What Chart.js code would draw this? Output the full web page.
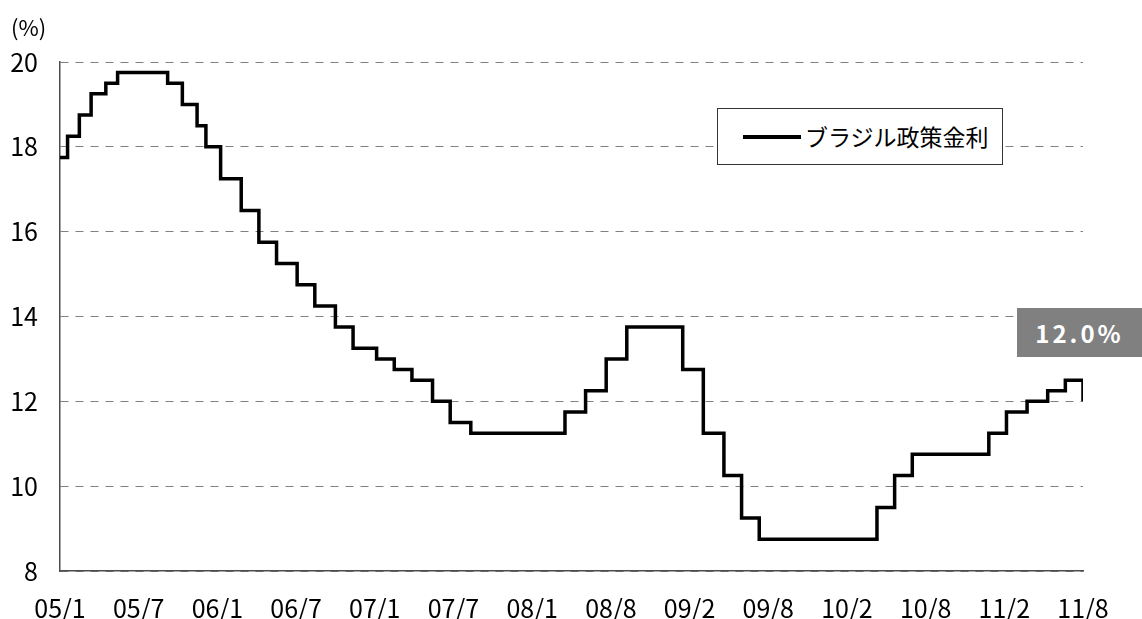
<!DOCTYPE html>
<html lang="ja">
<head>
<meta charset="utf-8">
<title>ブラジル政策金利</title>
<script src="https://cdn.jsdelivr.net/npm/chart.js@4/dist/chart.umd.min.js"></script>
<style>
    html, body {
        margin: 0;
        padding: 0;
        background: #ffffff;
    }
    .wrap {
        position: relative;
        width: 1142px;
        height: 619px;
        font-family: "Noto Sans CJK JP", sans-serif;
    }
    .unit {
        position: absolute;
        left: 11px;
        top: 10px;
        font-size: 22px;
        color: #000;
    }
    .legendBox {
        position: absolute;
        left: 717px;
        top: 108px;
        width: 284px;
        height: 55px;
        border: 1px solid #333;
        background: #fff;
    }
    .legendLine {
        position: absolute;
        left: 25px;
        top: 26px;
        width: 58px;
        height: 4px;
        background: #000;
    }
    .legendText {
        position: absolute;
        left: 87px;
        top: 10px;
        font-size: 23px;
        line-height: 34px;
        color: #000;
    }
    .lastLabel {
        position: absolute;
        left: 1017px;
        top: 308px;
        width: 125px;
        height: 49px;
        background: #808080;
        color: #fff;
        font-weight: bold;
        font-size: 24px;
        letter-spacing: 3px;
        line-height: 49px;
        text-align: center;
    }
</style>
</head>
<body>
<div class="wrap">
    <canvas id="rateChart" width="1142" height="619"></canvas>
    <div class="unit">(%)</div>
    <div class="legendBox">
        <div class="legendLine"></div>
        <div class="legendText" id="legendText"></div>
    </div>
    <div class="lastLabel" id="lastLabel"></div>
</div>
<script>
// ブラジル政策金利 (Selic) - rate changes
const seriesName = 'ブラジル政策金利';

const changeDates = [
    '2005-01-01', '2005-01-19', '2005-02-16', '2005-03-16', '2005-04-20', '2005-05-18',
    '2005-09-14', '2005-10-19', '2005-11-23', '2005-12-14',
    '2006-01-18', '2006-03-08', '2006-04-19', '2006-05-31', '2006-07-19', '2006-08-30',
    '2006-10-18', '2006-11-29',
    '2007-01-24', '2007-03-07', '2007-04-18', '2007-06-06', '2007-07-18', '2007-09-05',
    '2008-04-16', '2008-06-04', '2008-07-23', '2008-09-10',
    '2009-01-21', '2009-03-11', '2009-04-29', '2009-06-10', '2009-07-22',
    '2010-04-28', '2010-06-09', '2010-07-21',
    '2011-01-19', '2011-03-02', '2011-04-20', '2011-06-08', '2011-07-20', '2011-08-31'
];

const policyRate = [
    17.75, 18.25, 18.75, 19.25, 19.50, 19.75,
    19.50, 19.00, 18.50, 18.00,
    17.25, 16.50, 15.75, 15.25, 14.75, 14.25,
    13.75, 13.25,
    13.00, 12.75, 12.50, 12.00, 11.50, 11.25,
    11.75, 12.25, 13.00, 13.75,
    12.75, 11.25, 10.25, 9.25, 8.75,
    9.50, 10.25, 10.75,
    11.25, 11.75, 12.00, 12.25, 12.50, 12.00
];

const tickLabels = ['05/1', '05/7', '06/1', '06/7', '07/1', '07/7', '08/1',
    '08/8', '09/2', '09/8', '10/2', '10/8', '11/2', '11/8'];

const yTicks = [8, 10, 12, 14, 16, 18, 20];

// days since the first date, used on the linear x axis
function toDays(dateStr) {
    return (Date.parse(dateStr) - Date.parse(changeDates[0])) / 86400000;
}

const points = changeDates.map((d, i) => ({ x: toDays(d), y: policyRate[i] }));
const lastDay = toDays(changeDates[changeDates.length - 1]);

const tickFont = { family: '"Noto Sans CJK JP", sans-serif', size: 25 };

new Chart(document.getElementById('rateChart'), {
    type: 'line',
    data: {
        datasets: [{
            label: seriesName,
            data: points,
            borderColor: '#000000',
            borderWidth: 3.5,
            pointRadius: 0,
            stepped: true,
            tension: 0,
            fill: false
        }]
    },
    options: {
        responsive: false,
        animation: false,
        layout: {
            padding: { top: 62, right: 59, left: 0, bottom: 0 }
        },
        plugins: {
            legend: { display: false },
            tooltip: { enabled: false }
        },
        scales: {
            x: {
                type: 'linear',
                min: 0,
                max: lastDay,
                display: false
            },
            xLabels: {
                type: 'category',
                labels: tickLabels,
                position: 'bottom',
                offset: false,
                grid: { display: false, drawTicks: false },
                border: { display: true, color: '#4d4d4d', width: 1.5 },
                ticks: {
                    font: tickFont,
                    color: '#000',
                    padding: 22,
                    autoSkip: false,
                    maxRotation: 0
                },
                afterFit: scale => { scale.height = 48; }
            },
            y: {
                min: 8,
                max: 20,
                afterBuildTicks: scale => {
                    scale.ticks = yTicks.map(v => ({ value: v }));
                },
                grid: {
                    color: '#808080',
                    lineWidth: 1,
                    drawTicks: false
                },
                border: { display: true, color: '#4d4d4d', width: 1.5, dash: [8, 7] },
                ticks: {
                    font: tickFont,
                    color: '#000',
                    padding: 22
                },
                afterFit: scale => { scale.width = 60; }
            }
        }
    }
});

document.getElementById('legendText').textContent = seriesName;
document.getElementById('lastLabel').textContent = policyRate[policyRate.length - 1].toFixed(1) + '%';
</script>
</body>
</html>
